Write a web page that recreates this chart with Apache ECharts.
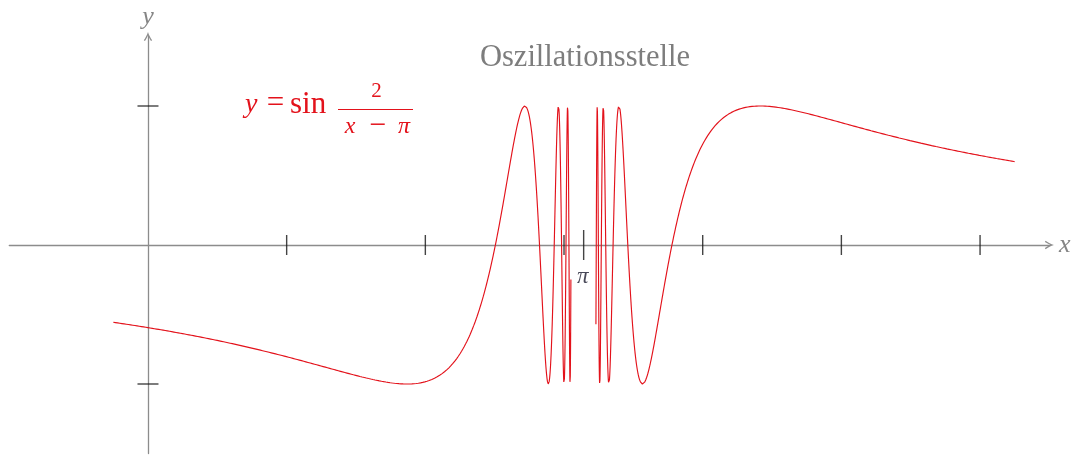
<!DOCTYPE html>
<html>
<head>
<meta charset="utf-8">
<script src="https://cdn.jsdelivr.net/npm/echarts@6/dist/echarts.min.js"></script>
<style>
  html, body { margin: 0; padding: 0; background: #ffffff; }
  #chart { width: 1078px; height: 456px; }
</style>
</head>
<body>
<div id="chart"></div>
<script>
// Axis extents
const xRange = [-1, 6.5];
const yRange = [-1.5, 1.5];

// The curve y = sin(2 / (x - π)) is drawn on two pieces, leaving out the
// neighbourhood of the pole at x = π where it oscillates infinitely often.
const leftDomain = [-0.25, 3.0496];
const rightDomain = [3.2301, 6.25];
const sampleStep = 0.0004;

// Tick positions
const xTickValues = [1, 2, 3, 4, 5, 6];
const yTickValues = [-1, 1];
const piTickValue = [Math.PI];

const CURVE_RED = '#e3121b';
const AXIS_GRAY = '#8c8c8c';
const SERIF = '"Liberation Serif", "DejaVu Serif", serif';

function f(x) { return Math.sin(2 / (x - Math.PI)); }

function sampleCurve(domain) {
  const n = Math.round((domain[1] - domain[0]) / sampleStep);
  const pts = [];
  for (let i = 0; i <= n; i++) {
    const x = domain[0] + (domain[1] - domain[0]) * i / n;
    pts.push([x, f(x)]);
  }
  return pts;
}

// Open arrow head (points up; ECharts turns it along the axis)
const arrowHead = 'path://M0,10 C2,7 4,3.5 5,0 C6,3.5 8,7 10,10 L8.6,10.8 C7.2,8.6 6,6.4 5,4.2 C4,6.4 2.8,8.6 1.4,10.8 Z';

const chart = echarts.init(document.getElementById('chart'), null, { renderer: 'canvas' });

function curveSeries(data) {
  return {
    type: 'line',
    data: data,
    showSymbol: false,
    symbol: 'none',
    sampling: 'none',
    smooth: false,
    clip: true,
    lineStyle: { color: CURVE_RED, width: 1.15 },
    z: 2
  };
}

function label(text, x, y, font, fill, align) {
  return {
    type: 'text',
    style: {
      text: text, x: x, y: y,
      align: align || 'center', textAlign: align || 'center',
      verticalAlign: 'middle', textVerticalAlign: 'middle',
      font: font, fill: fill
    }
  };
}

const option = {
  animation: false,
  backgroundColor: '#ffffff',
  grid: { left: 9.3, right: 28.6, top: 36.5, bottom: 2.5, containLabel: false },
  xAxis: {
    type: 'value',
    min: xRange[0],
    max: xRange[1],
    axisLine: {
      onZero: true,
      lineStyle: { color: AXIS_GRAY, width: 1.3 },
      symbol: ['none', arrowHead],
      symbolSize: [11, 9]
    },
    axisTick: { show: false },
    axisLabel: { show: false },
    splitLine: { show: false }
  },
  yAxis: {
    type: 'value',
    min: yRange[0],
    max: yRange[1],
    axisLine: {
      onZero: true,
      lineStyle: { color: AXIS_GRAY, width: 1.3 },
      symbol: ['none', arrowHead],
      symbolSize: [11, 9]
    },
    axisTick: { show: false },
    axisLabel: { show: false },
    splitLine: { show: false }
  },
  series: [
    curveSeries(sampleCurve(leftDomain)),
    curveSeries(sampleCurve(rightDomain)),
    {
      // ticks across the x axis
      type: 'scatter',
      data: xTickValues.map(v => [v, 0]),
      symbol: 'rect',
      symbolSize: [1.4, 20],
      itemStyle: { color: '#151515' },
      silent: true,
      z: 5
    },
    {
      // ticks across the y axis
      type: 'scatter',
      data: yTickValues.map(v => [0, v]),
      symbol: 'rect',
      symbolSize: [21, 1.4],
      itemStyle: { color: '#151515' },
      silent: true,
      z: 5
    },
    {
      // tick and label at x = π
      type: 'scatter',
      data: piTickValue.map(v => [v, 0]),
      symbol: 'rect',
      symbolSize: [1.4, 30],
      itemStyle: { color: '#151515' },
      label: {
        show: true,
        position: 'bottom',
        distance: 5,
        formatter: 'π',
        fontFamily: SERIF,
        fontStyle: 'italic',
        fontSize: 23,
        color: '#1a1a2e',
        offset: [-1, 0]
      },
      silent: true,
      z: 5
    }
  ],
  graphic: [
    label('Oszillationsstelle', 585, 58, '30.5px ' + SERIF, '#7d7d7d'),
    label('x', 1059, 245, 'italic 26px ' + SERIF, '#858585', 'left'),
    label('y', 148, 17, 'italic 26px ' + SERIF, '#858585'),

    // formula label: y = sin 2/(x − π)
    label('y', 245, 105, 'italic 28px ' + SERIF, CURVE_RED, 'left'),
    label('=', 275.5, 104, '31px ' + SERIF, CURVE_RED),
    label('sin', 290, 105, '31px ' + SERIF, CURVE_RED, 'left'),
    {
      type: 'line',
      shape: { x1: 338, y1: 109.5, x2: 413, y2: 109.5 },
      style: { stroke: CURVE_RED, lineWidth: 1.2 }
    },
    label('2', 376.5, 91, '21px ' + SERIF, CURVE_RED),
    label('x', 350, 127, 'italic 24px ' + SERIF, CURVE_RED),
    label('−', 378, 126, '30px ' + SERIF, CURVE_RED),
    label('π', 404, 127, 'italic 24px ' + SERIF, CURVE_RED)
  ]
};

chart.setOption(option);
</script>
</body>
</html>
